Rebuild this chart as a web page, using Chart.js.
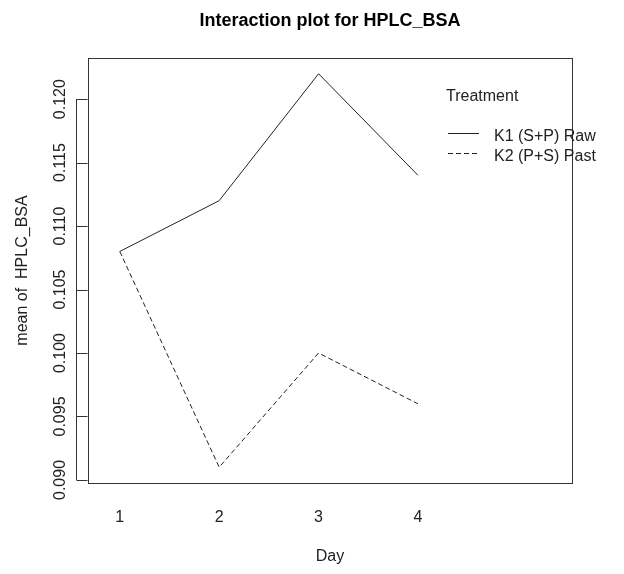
<!DOCTYPE html>
<html>
<head>
<meta charset="utf-8">
<script src="https://cdn.jsdelivr.net/npm/chart.js@4/dist/chart.umd.min.js"></script>
<style>
html,body{margin:0;padding:0;background:#fff;}
#wrap{width:624px;height:574px;position:relative;}
</style>
</head>
<body>
<div id="wrap"><canvas id="c" width="624" height="574"></canvas></div>
<script>
const days = [1, 2, 3, 4];
const dayLabels = ["1", "2", "3", "4"];
const seriesNames = ["K1 (S+P) Raw", "K2 (P+S) Past"];
const k1Values = [0.108, 0.112, 0.122, 0.114];
const k2Values = [0.108, 0.091, 0.100, 0.096];
const yTicks = [0.090, 0.095, 0.100, 0.105, 0.110, 0.115, 0.120];
const yTickLabels = ["0.090", "0.095", "0.100", "0.105", "0.110", "0.115", "0.120"];
const chartTitle = "Interaction plot for HPLC_BSA";
const xTitle = "Day";
const yTitle = "mean of  HPLC_BSA";
const legendTitle = "Treatment";

const FONT = '"Liberation Sans", Arial, sans-serif';

const rPlot = {
  id: 'rPlot',
  afterDraw(chart) {
    const ctx = chart.ctx;
    const a = chart.chartArea;
    const xs = chart.scales.x, ys = chart.scales.y;
    ctx.save();
    ctx.strokeStyle = '#333';
    ctx.lineWidth = 1;
    ctx.setLineDash([]);
    // box
    ctx.strokeRect(Math.round(a.left) + 0.5, Math.round(a.top) + 0.5,
      Math.round(a.right - a.left), Math.round(a.bottom - a.top));
    // y axis
    const yTop = ys.getPixelForValue(yTicks[yTicks.length - 1]);
    const yBot = ys.getPixelForValue(yTicks[0]);
    const axX = Math.round(a.left) - 11.5;
    ctx.beginPath();
    ctx.moveTo(axX, yTop); ctx.lineTo(axX, yBot);
    yTicks.forEach(v => {
      const p = Math.round(ys.getPixelForValue(v)) + 0.5;
      ctx.moveTo(axX, p); ctx.lineTo(axX + 11, p);
    });
    ctx.stroke();
    ctx.fillStyle = '#222';
    ctx.font = '16px ' + FONT;
    ctx.textAlign = 'center';
    ctx.textBaseline = 'middle';
    yTicks.forEach((v, i) => {
      const p = ys.getPixelForValue(v);
      ctx.save();
      ctx.translate(61, p);
      ctx.rotate(-Math.PI / 2);
      ctx.fillText(yTickLabels[i], 0, 0);
      ctx.restore();
    });
    // x labels
    days.forEach((d, i) => {
      ctx.fillText(dayLabels[i], xs.getPixelForValue(d), 518);
    });
    // axis titles
    ctx.fillText(xTitle, (a.left + a.right) / 2, 557);
    ctx.save();
    ctx.translate(23, (a.top + a.bottom) / 2);
    ctx.rotate(-Math.PI / 2);
    ctx.fillText(yTitle, 0, 0);
    ctx.restore();
    // main title
    ctx.font = 'bold 18px ' + FONT;
    ctx.fillStyle = '#000';
    ctx.fillText(chartTitle, (a.left + a.right) / 2, 21);
    // legend
    ctx.font = '16px ' + FONT;
    ctx.fillStyle = '#222';
    ctx.textAlign = 'left';
    ctx.fillText(legendTitle, 446, 97);
    const legY = [133, 153];
    chart.data.datasets.forEach((ds, i) => {
      ctx.strokeStyle = '#222';
      ctx.lineWidth = 1;
      ctx.setLineDash(ds.borderDash || []);
      ctx.beginPath();
      ctx.moveTo(448, legY[i] + 0.5); ctx.lineTo(479, legY[i] + 0.5);
      ctx.stroke();
      ctx.setLineDash([]);
      ctx.fillText(ds.label, 494, legY[i] + 4);
    });
    ctx.restore();
  }
};

new Chart(document.getElementById('c'), {
  type: 'line',
  data: {
    datasets: [
      { label: seriesNames[0], data: days.map((d, i) => ({x: d, y: k1Values[i]})),
        borderColor: '#222', borderWidth: 1, pointRadius: 0, tension: 0, fill: false },
      { label: seriesNames[1], data: days.map((d, i) => ({x: d, y: k2Values[i]})),
        borderColor: '#222', borderWidth: 1, borderDash: [5, 3], pointRadius: 0, tension: 0, fill: false }
    ]
  },
  options: {
    responsive: false,
    animation: false,
    layout: { padding: { left: 88, right: 52, top: 58, bottom: 91 } },
    plugins: { legend: { display: false }, title: { display: false }, tooltip: { enabled: false } },
    scales: {
      x: { type: 'linear', min: 0.68, max: 5.55, display: false },
      y: { type: 'linear', min: 0.08976, max: 0.12324, display: false }
    }
  },
  plugins: [rPlot]
});
</script>
</body>
</html>
